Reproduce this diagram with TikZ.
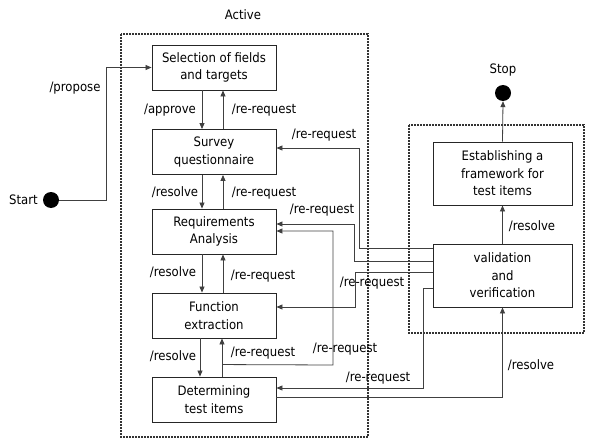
\documentclass[tikz,border=0pt]{standalone}
\usepackage{fontspec}
\setmainfont{DejaVu Sans Condensed}
\usetikzlibrary{arrows.meta}
\begin{document}
\begin{tikzpicture}[x=1pt,y=-1pt,
  font=\fontsize{13}{17.5}\selectfont,
  box/.style={draw=black!85, line width=0.9pt, align=center, minimum width=124pt, minimum height=45pt, inner sep=2pt},
  bigbox/.style={box, minimum width=139pt, minimum height=63pt},
  arr/.style={draw=black!75, line width=0.8pt, -{Triangle[length=6pt,width=5pt]}},
  dotbox/.style={draw=black!80, line width=1.8pt, dash pattern=on 1.6pt off 1.4pt},
  dot/.style={circle, fill=black, minimum size=16pt, inner sep=0pt},
  lbl/.style={inner sep=0pt}]
\useasboundingbox (0,0) rectangle (589,441);
% dotted containers
\draw[dotbox] (121,34) rectangle (368,437);
\draw[dotbox] (409,125) rectangle (584,333);
\node[lbl] (active) at (243,15) {Active};
% states
\node[box] (sel) at (214,67.5) {Selection of fields\\and targets};
\node[box] (sur) at (214,152) {Survey\\questionnaire};
\node[box] (req) at (214,231.5) {Requirements\\Analysis};
\node[box] (fun) at (214,315.5) {Function\\extraction};
\node[box] (det) at (214,399.5) {Determining\\test items};
\node[bigbox] (est) at (502.5,173.5) {Establishing a\\framework for\\test items};
\node[bigbox] (val) at (502.5,275.5) {validation\\and\\verification};
\node[dot] (start) at (51,200) {};
\node[lbl, anchor=east] (startl) at (38,200) {Start};
\node[dot] (stop) at (503,93) {};
\node[lbl] (stopl) at (503,70) {Stop};
% start
\coordinate (p1) at (106,67.5);
\draw[arr] (start.east) -| (p1) -- (sel.west);
\node[lbl] (l0) at (75,88) {/propose};
% vertical chain
\draw[arr] ([xshift=-12pt]sel.south) -- ([xshift=-12pt]sur.north);
\draw[arr] ([xshift=9pt]sur.north) -- ([xshift=9pt]sel.south);
\draw[arr] ([xshift=-12pt]sur.south) -- ([xshift=-12pt]req.north);
\draw[arr] ([xshift=9pt]req.north) -- ([xshift=9pt]sur.south);
\draw[arr] ([xshift=-12pt]req.south) -- ([xshift=-12pt]fun.north);
\draw[arr] ([xshift=9pt]fun.north) -- ([xshift=9pt]req.south);
\draw[arr] ([xshift=-14pt]fun.south) -- ([xshift=-14pt]det.north);
\draw[arr] ([xshift=8pt]det.north) -- ([xshift=8pt]fun.south);
\node[lbl] (l1) at (170,110) {/approve};
\node[lbl] (l2) at (264,110) {/re-request};
\node[lbl] (l3) at (175,192) {/resolve};
\node[lbl] (l4) at (264,193) {/re-request};
\node[lbl] (l5) at (173,272) {/resolve};
\node[lbl] (l6) at (263,276) {/re-request};
\node[lbl] (l7) at (173,356) {/resolve};
\node[lbl] (l8) at (263,353) {/re-request};
% determining -> requirements
\draw[arr] ([xshift=8pt,yshift=12pt]det.north) -- (333,365) -- (333,231) -- ([yshift=0.5pt]req.east);
\node[lbl] (l9) at (345,349) {/re-request};
% validation -> left boxes
\draw[arr] ([yshift=27.5pt]val.west) -- (359,248) -- (359,148) -- ([yshift=4pt]sur.east);
\node[lbl] (l10) at (324,135) {/re-request};
\draw[arr] ([yshift=14.5pt]val.west) -- (354,261) -- (354,224) -- ([yshift=7.5pt]req.east);
\node[lbl] (l11) at (322,210) {/re-request};
\draw[arr] ([yshift=3.5pt]val.west) -- (355,272) -- (355,307) -- ([yshift=8.5pt]fun.east);
\node[lbl] (l12) at (372,283) {/re-request};
\draw[arr] ([yshift=-12.5pt]val.west) -- (423,288) -- (423,388) -- ([yshift=11.5pt]det.east);
\node[lbl] (l13) at (378,378) {/re-request};
\draw[arr] ([yshift=2.5pt]det.east) -| (val.south);
\node[lbl] (l14) at (531,365) {/resolve};
\draw[arr] (val.north) -- (est.south);
\node[lbl] (l15) at (532,226) {/resolve};
\draw[arr] (est.north) -- (stop.south);
\end{tikzpicture}
\end{document}
